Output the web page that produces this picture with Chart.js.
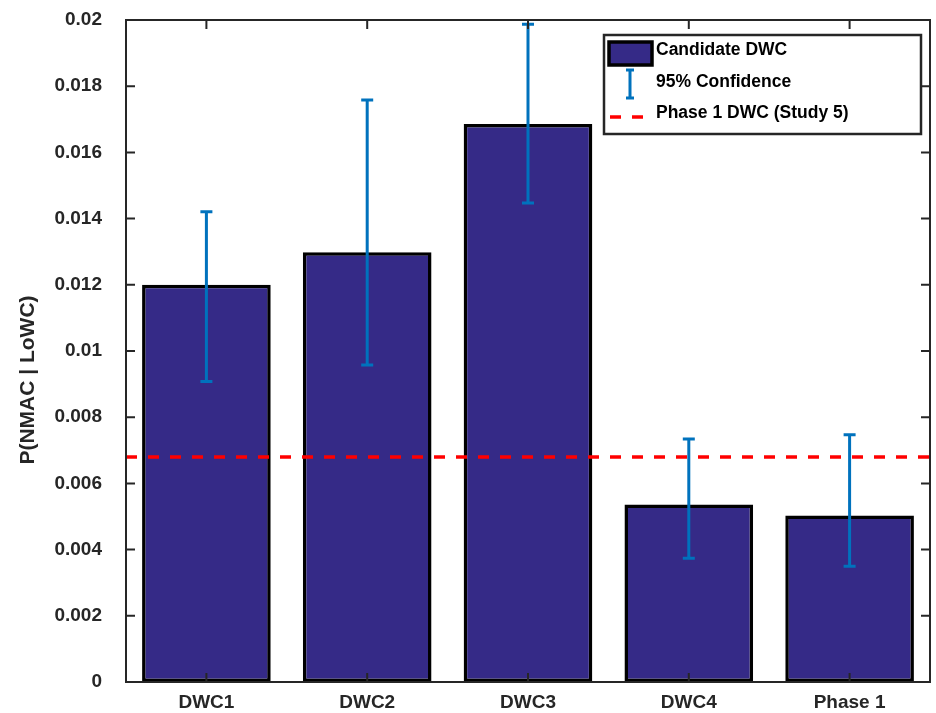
<!DOCTYPE html>
<html lang="en">
<head>
    <meta charset="UTF-8">
    <title>P(NMAC | LoWC)</title>
    <script src="https://cdn.jsdelivr.net/npm/chart.js"></script>
    <style>
        body { margin: 0; background: #fff; }
        #wrap { width: 936px; height: 713px; }
    </style>
</head>
<body>
    <div id="wrap"><canvas id="chartNmac"></canvas></div>

    <script>
        // Data
        const categories = ['DWC1', 'DWC2', 'DWC3', 'DWC4', 'Phase 1'];
        const pNmac = [0.01200, 0.01298, 0.01686, 0.00536, 0.00503];
        const ciLow = [0.00908, 0.00958, 0.01447, 0.00374, 0.00350];
        const ciHigh = [0.01421, 0.01758, 0.01987, 0.00734, 0.00747];
        const phase1Study5 = 0.00680;
        const yTickLabels = ['0', '0.002', '0.004', '0.006', '0.008', '0.01', '0.012', '0.014', '0.016', '0.018', '0.02'];

        const axisColor = '#262626';
        const barColor = '#352a87';
        const errColor = '#0072bd';
        const FONT = 'Liberation Sans, Arial, Helvetica, sans-serif';

        // error bars + reference line + axes box + legend
        const overlayPlugin = {
            id: 'overlay',
            afterDatasetsDraw(chart) {
                const { ctx, chartArea: a, scales: { x, y } } = chart;
                ctx.save();
                // 95% confidence bars
                ctx.strokeStyle = errColor;
                ctx.lineWidth = 3;
                categories.forEach((c, i) => {
                    const cx = x.getPixelForValue(i);
                    const y1 = y.getPixelForValue(ciLow[i]);
                    const y2 = y.getPixelForValue(ciHigh[i]);
                    ctx.beginPath();
                    ctx.moveTo(cx, y1); ctx.lineTo(cx, y2);
                    ctx.moveTo(cx - 6, y1); ctx.lineTo(cx + 6, y1);
                    ctx.moveTo(cx - 6, y2); ctx.lineTo(cx + 6, y2);
                    ctx.stroke();
                });
                // Phase 1 DWC (Study 5)
                const ry = y.getPixelForValue(phase1Study5);
                ctx.strokeStyle = '#ff0000';
                ctx.lineWidth = 3.5;
                ctx.setLineDash([11, 11]);
                ctx.beginPath();
                ctx.moveTo(a.left, ry); ctx.lineTo(a.right, ry);
                ctx.stroke();
                ctx.setLineDash([]);

                // axes box with inward ticks
                ctx.strokeStyle = axisColor;
                ctx.lineWidth = 2;
                ctx.strokeRect(a.left, a.top, a.right - a.left, a.bottom - a.top);
                ctx.beginPath();
                y.ticks.forEach(t => {
                    const ty = y.getPixelForValue(t.value);
                    ctx.moveTo(a.left, ty); ctx.lineTo(a.left + 9, ty);
                    ctx.moveTo(a.right, ty); ctx.lineTo(a.right - 9, ty);
                });
                categories.forEach((c, i) => {
                    const tx = x.getPixelForValue(i);
                    ctx.moveTo(tx, a.bottom); ctx.lineTo(tx, a.bottom - 9);
                    ctx.moveTo(tx, a.top); ctx.lineTo(tx, a.top + 9);
                });
                ctx.stroke();

                // y axis title
                ctx.fillStyle = axisColor;
                ctx.font = 'bold 21px ' + FONT;
                ctx.textAlign = 'center';
                ctx.textBaseline = 'middle';
                ctx.translate(28, 380);
                ctx.rotate(-Math.PI / 2);
                ctx.fillText('P(NMAC | LoWC)', 0, 0);
                ctx.restore();

                // legend
                ctx.save();
                ctx.fillStyle = '#fff';
                ctx.fillRect(604, 35, 317, 99);
                ctx.strokeStyle = axisColor;
                ctx.lineWidth = 2.5;
                ctx.strokeRect(604, 35, 317, 99);
                ctx.fillStyle = barColor;
                ctx.fillRect(609, 42, 43, 23);
                ctx.strokeStyle = '#000';
                ctx.lineWidth = 3.5;
                ctx.strokeRect(609, 42, 43, 23);
                ctx.strokeStyle = errColor;
                ctx.lineWidth = 3;
                ctx.beginPath();
                ctx.moveTo(630, 70); ctx.lineTo(630, 98);
                ctx.moveTo(626, 70); ctx.lineTo(634, 70);
                ctx.moveTo(626, 98); ctx.lineTo(634, 98);
                ctx.stroke();
                ctx.strokeStyle = '#ff0000';
                ctx.lineWidth = 3.5;
                ctx.beginPath();
                ctx.moveTo(610, 117); ctx.lineTo(621, 117);
                ctx.moveTo(632, 117); ctx.lineTo(643, 117);
                ctx.stroke();
                ctx.fillStyle = '#000';
                ctx.font = 'bold 17.5px ' + FONT;
                ctx.textAlign = 'left';
                ctx.textBaseline = 'middle';
                ctx.fillText('Candidate DWC', 656, 50);
                ctx.fillText('95% Confidence', 656, 82);
                ctx.fillText('Phase 1 DWC (Study 5)', 656, 113);
                ctx.restore();
            }
        };

        const ctx = document.getElementById('chartNmac').getContext('2d');
        const chart = new Chart(ctx, {
            type: 'bar',
            data: {
                labels: categories,
                datasets: [{
                    label: 'Candidate DWC',
                    data: pNmac,
                    backgroundColor: barColor,
                    borderColor: '#000',
                    borderWidth: 3.5,
                    borderSkipped: false,
                    categoryPercentage: 0.8,
                    barPercentage: 1.0
                }]
            },
            options: {
                responsive: true,
                maintainAspectRatio: false,
                animation: false,
                layout: { padding: { top: 20, right: 6, left: 0, bottom: 0 } },
                plugins: {
                    legend: { display: false },
                    tooltip: { enabled: false }
                },
                scales: {
                    x: {
                        grid: { display: false, drawTicks: false },
                        border: { display: false },
                        ticks: {
                            color: axisColor,
                            padding: 9,
                            font: { family: FONT, size: 19, weight: 'bold' }
                        },
                        afterFit: s => { s.height = 31; s.paddingLeft = 0; s.paddingRight = 0; }
                    },
                    y: {
                        min: 0,
                        max: 0.02,
                        grid: { display: false, drawTicks: false },
                        border: { display: false },
                        ticks: {
                            stepSize: 0.002,
                            color: axisColor,
                            padding: 24,
                            font: { family: FONT, size: 19, weight: 'bold' },
                            callback: (v, i) => yTickLabels[i]
                        },
                        afterFit: s => { s.width = 126; s.paddingTop = 0; s.paddingBottom = 0; }
                    }
                }
            },
            plugins: [overlayPlugin]
        });
    </script>
</body>
</html>
